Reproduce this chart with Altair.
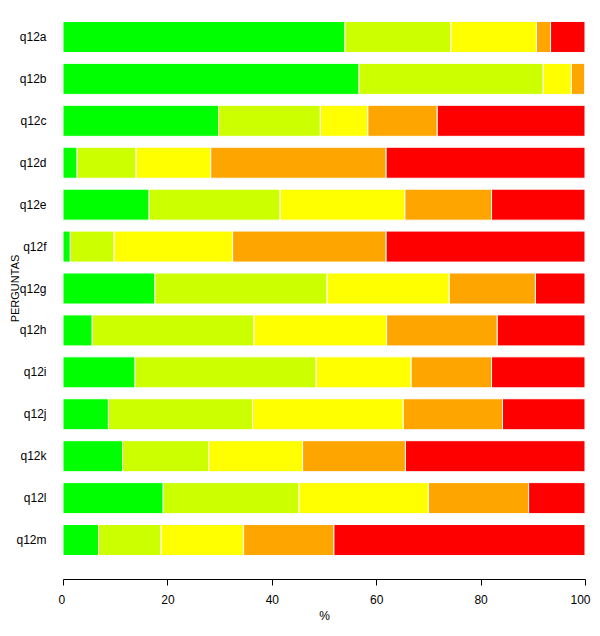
import altair as alt
import pandas as pd

questions = ["q12a", "q12b", "q12c", "q12d", "q12e", "q12f", "q12g",
             "q12h", "q12i", "q12j", "q12k", "q12l", "q12m"]
levels = ["1", "2", "3", "4", "5"]
colors = ["#00FF00", "#CCFF00", "#FFFF00", "#FFA500", "#FF0000"]

level1 = [54.0, 56.7, 29.8, 2.7, 16.5, 1.4, 17.6, 5.6, 13.8, 8.7, 11.4, 19.2, 6.8]
level2 = [20.3, 35.3, 19.5, 11.3, 25.1, 8.4, 33.0, 31.0, 34.7, 27.6, 16.5, 26.0, 12.0]
level3 = [16.4, 5.4, 9.1, 14.3, 23.9, 22.7, 23.4, 25.4, 18.2, 28.9, 18.0, 24.8, 15.8]
level4 = [2.7, 2.6, 13.3, 33.6, 16.6, 29.4, 16.5, 21.2, 15.4, 19.0, 19.7, 19.2, 17.3]
level5 = [6.6, 0.0, 28.3, 38.1, 17.9, 38.1, 9.5, 16.8, 17.9, 15.8, 34.4, 10.8, 48.1]

series = [level1, level2, level3, level4, level5]
rows = []
for li, (lev, vals) in enumerate(zip(levels, series)):
    for q, v in zip(questions, vals):
        rows.append({"pergunta": q, "nivel": lev, "ordem": li, "valor": v})
df = pd.DataFrame(rows)

FONT = "Liberation Sans"

chart = alt.Chart(df).mark_bar(stroke="white", strokeWidth=1).encode(
    y=alt.Y("pergunta:N", sort=questions,
            scale=alt.Scale(paddingInner=0.26, paddingOuter=0.13),
            axis=alt.Axis(title="PERGUNTAS", domain=False, ticks=False,
                          labelPadding=17, labelFontSize=12, labelFont=FONT,
                          labelColor="black", titleFont=FONT, titleFontSize=11,
                          titleFontWeight="normal", titleColor="black",
                          titleX=-48, titleY=272, titleAngle=270,
                          titleBaseline="middle", titleAlign="center")),
    x=alt.X("valor:Q", stack="zero",
            scale=alt.Scale(domain=[0, 100], nice=False),
            axis=alt.Axis(title="%", values=[0, 20, 40, 60, 80, 100], grid=False,
                          offset=18, domainColor="black", tickColor="black",
                          tickSize=6, labelPadding=9, labelFontSize=12,
                          labelFlush=True, labelFlushOffset=5,
                          labelFont=FONT, labelColor="black", titleFont=FONT,
                          titleFontSize=12, titleFontWeight="normal",
                          titleColor="black", titlePadding=5)),
    color=alt.Color("nivel:N", scale=alt.Scale(domain=levels, range=colors), legend=None),
    order=alt.Order("ordem:Q", sort="ascending"),
).properties(
    width=522,
    height=545,
    autosize=alt.AutoSizeParams(type="none"),
    padding={"left": 55, "top": 8, "right": 6, "bottom": 62},
).configure_view(stroke=None)

chart.save("out.html", embed_options={"renderer": "svg", "actions": False})
